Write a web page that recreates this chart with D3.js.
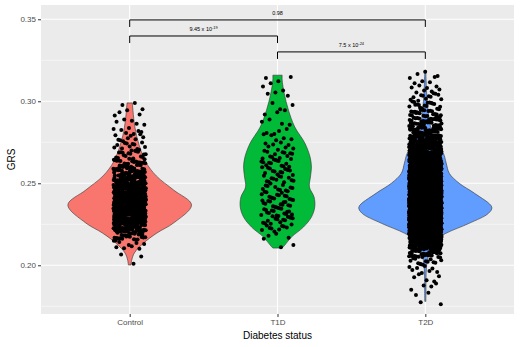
<!DOCTYPE html>
<html>
<head>
<meta charset="utf-8">
<script src="https://cdn.jsdelivr.net/npm/d3@7"></script>
<style>
  body { margin: 0; background: #fff; }
  text { font-family: "Liberation Sans", Arial, sans-serif; }
</style>
</head>
<body>
<div id="chart"></div>
<script>
// groups on the x axis
const groups = ['Control', 'T1D', 'T2D'];
const fills = ['#F8766D', '#00BA38', '#619CFF'];

// violin outlines: [GRS, relative density]
const controlDensity = [
  [0.2002, 0.02], [0.2030, 0.03], [0.2075, 0.07], [0.2136, 0.21], [0.2197, 0.41],
  [0.2258, 0.66], [0.2368, 0.93], [0.2459, 0.66], [0.2545, 0.40], [0.2632, 0.24],
  [0.2764, 0.12], [0.2866, 0.07], [0.2965, 0.045], [0.2990, 0.04]
];
const t1dDensity = [
  [0.2105, 0.07], [0.2123, 0.11], [0.2172, 0.21], [0.2233, 0.39], [0.2294, 0.51],
  [0.2355, 0.56], [0.2416, 0.55], [0.2477, 0.48], [0.2538, 0.495], [0.2599, 0.51],
  [0.2660, 0.49], [0.2746, 0.41], [0.2843, 0.26], [0.2946, 0.165], [0.3050, 0.10],
  [0.3130, 0.07], [0.3159, 0.07]
];
const t2dDensity = [
  [0.1780, 0.008], [0.1850, 0.01], [0.1950, 0.012], [0.2030, 0.03], [0.2073, 0.06],
  [0.2152, 0.15], [0.2195, 0.31], [0.2256, 0.66], [0.2317, 0.95], [0.2354, 1.0],
  [0.2439, 0.74], [0.2500, 0.51], [0.2561, 0.36], [0.2622, 0.315], [0.2685, 0.27],
  [0.2760, 0.15], [0.2850, 0.075], [0.2950, 0.04], [0.3050, 0.02], [0.3150, 0.01],
  [0.3190, 0.008]
];

// number of subjects per 0.005 GRS bin (estimated from the jittered dots)
const binStart = 0.175;
const binWidth = 0.005;
const controlCounts = [0, 0, 0, 0, 0, 1, 2, 8, 28, 56, 84, 98, 98, 84, 70, 56, 42, 30, 18, 12, 9, 7, 5, 4, 3];
const t1dCounts = [0, 0, 0, 0, 0, 0, 0, 2, 4, 10, 14, 16, 16, 14, 12, 12, 14, 14, 12, 8, 5, 4, 4, 3, 3, 2, 3, 4];
const t2dCounts = [2, 2, 4, 5, 8, 15, 40, 80, 150, 250, 350, 400, 400, 350, 280, 220, 170, 130, 100, 80, 60, 45, 35, 25, 18, 12, 8, 5, 3];

// significance brackets
const pairs = [['Control', 'T2D'], ['Control', 'T1D'], ['T1D', 'T2D']];
const pText = ['0.98', '9.45 x 10', '7.5 x 10'];
const pExp = ['', '-19', '-24'];
const bracketGRS = [0.3496, 0.3398, 0.3301];

const yTicks = [0.20, 0.25, 0.30, 0.35];
const yMinor = [0.175, 0.225, 0.275, 0.325];

const width = 520, height = 347;
const margin = { top: 5, right: 6, bottom: 33, left: 41 };

const svg = d3.select('#chart').append('svg')
  .attr('width', width).attr('height', height);

// scales -------
const x = d3.scalePoint()
  .domain(groups)
  .range([margin.left, width - margin.right])
  .padding(0.6);

const y = d3.scaleLinear()
  .domain([0.1703, 0.3587])
  .range([height - margin.bottom, margin.top]);

const step = x.step();
const w = d3.scaleLinear().domain([0, 1]).range([0, 0.45 * step]);

// panel
svg.append('rect')
  .attr('x', margin.left).attr('y', margin.top)
  .attr('width', width - margin.right - margin.left)
  .attr('height', height - margin.bottom - margin.top)
  .attr('fill', '#EBEBEB');

const grid = svg.append('g');
grid.selectAll('.minor').data(yMinor).join('line')
  .attr('x1', margin.left).attr('x2', width - margin.right)
  .attr('y1', d => y(d)).attr('y2', d => y(d))
  .attr('stroke', '#fff').attr('stroke-width', 0.5);
grid.selectAll('.major').data(yTicks).join('line')
  .attr('x1', margin.left).attr('x2', width - margin.right)
  .attr('y1', d => y(d)).attr('y2', d => y(d))
  .attr('stroke', '#fff').attr('stroke-width', 1.1);
grid.selectAll('.vmajor').data(groups).join('line')
  .attr('x1', d => x(d)).attr('x2', d => x(d))
  .attr('y1', margin.top).attr('y2', height - margin.bottom)
  .attr('stroke', '#fff').attr('stroke-width', 1.1);

// violins
const densities = [controlDensity, t1dDensity, t2dDensity];
groups.forEach((g, i) => {
  const cx = x(g);
  const area = d3.area()
    .curve(d3.curveCatmullRom)
    .y(d => y(d[0]))
    .x0(d => cx - w(d[1]))
    .x1(d => cx + w(d[1]));
  svg.append('path')
    .datum(densities[i])
    .attr('d', area)
    .attr('fill', fills[i])
    .attr('stroke', '#333')
    .attr('stroke-width', 0.6);
});

// jittered points: spread inside each bin (van der Corput in y, golden ratio in x)
function vdc(n) {
  let v = 0, f = 0.5;
  while (n > 0) { v += f * (n & 1); n >>= 1; f /= 2; }
  return v;
}
const countsAll = [controlCounts, t1dCounts, t2dCounts];
const jitterPx = 0.11 * step;
const pts = [];
groups.forEach((g, gi) => {
  let idx = 0;
  countsAll[gi].forEach((n, b) => {
    for (let k = 0; k < n; k++) {
      idx++;
      const u = (idx * 0.618034 + gi * 0.37) % 1;
      const v = (vdc(k + 1) + b * 0.137) % 1;
      pts.push({ g: g, grs: binStart + (b + v) * binWidth, off: (u * 2 - 1) * jitterPx });
    }
  });
});
svg.append('g').selectAll('circle').data(pts).join('circle')
  .attr('cx', d => x(d.g) + d.off)
  .attr('cy', d => y(d.grs))
  .attr('r', 2)
  .attr('fill', '#000');

// brackets
const tip = 0.0043;
pairs.forEach((p, i) => {
  const x1 = x(p[0]), x2 = x(p[1]);
  const yy = y(bracketGRS[i]), yt = y(bracketGRS[i] - tip);
  svg.append('path')
    .attr('d', `M${x1},${yt}V${yy}H${x2}V${yt}`)
    .attr('fill', 'none').attr('stroke', '#000').attr('stroke-width', 1);
  const t = svg.append('text')
    .attr('x', (x1 + x2) / 2).attr('y', yy - 4.5)
    .attr('text-anchor', 'middle')
    .attr('font-size', 5.5).attr('fill', '#000')
    .text(pText[i]);
  if (pExp[i]) {
    t.append('tspan').attr('dy', -2.5).attr('font-size', 4).text(pExp[i]);
  }
});

// y axis
const yAxis = svg.append('g')
  .attr('transform', `translate(${margin.left},0)`)
  .call(d3.axisLeft(y).tickValues(yTicks).tickFormat(d3.format('.2f')).tickSize(3).tickPadding(2));
yAxis.select('.domain').remove();
yAxis.selectAll('line').attr('stroke', '#333');
yAxis.selectAll('text').attr('fill', '#4D4D4D').attr('font-size', 8)
  .style('font-family', '"Liberation Sans", Arial, sans-serif');

// x axis
const xAxis = svg.append('g')
  .attr('transform', `translate(0,${height - margin.bottom})`)
  .call(d3.axisBottom(x).tickSize(3).tickPadding(2));
xAxis.select('.domain').remove();
xAxis.selectAll('line').attr('stroke', '#333');
xAxis.selectAll('text').attr('fill', '#4D4D4D').attr('font-size', 8)
  .style('font-family', '"Liberation Sans", Arial, sans-serif');

// titles
svg.append('text')
  .attr('x', (margin.left + width - margin.right) / 2).attr('y', 339)
  .attr('text-anchor', 'middle').attr('font-size', 10).attr('fill', '#000')
  .text('Diabetes status');
svg.append('text')
  .attr('transform', `translate(15,${(margin.top + height - margin.bottom) / 2}) rotate(-90)`)
  .attr('text-anchor', 'middle').attr('font-size', 10).attr('fill', '#000')
  .text('GRS');
</script>
</body>
</html>
